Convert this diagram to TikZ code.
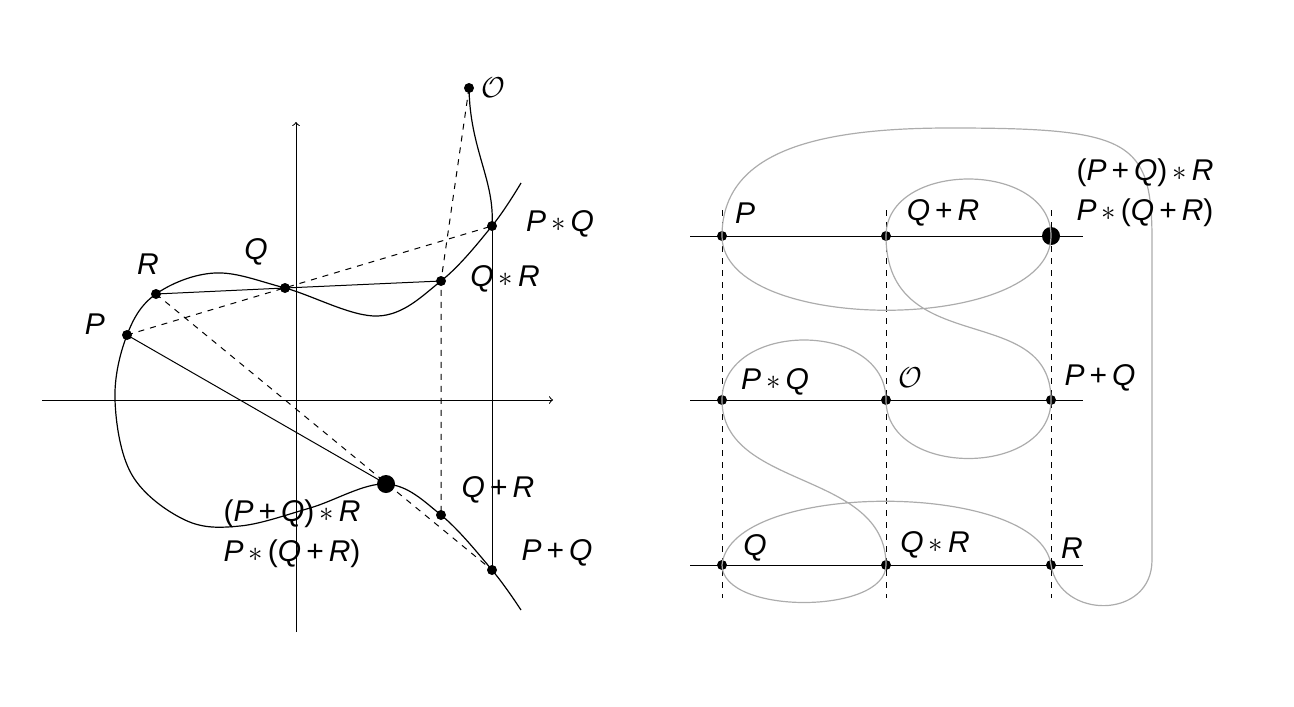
\documentclass[tikz,border=0pt]{standalone}
\usepackage{fontspec}
\setmainfont{Liberation Sans}
\newcommand{\tP}{\textit{P}}
\newcommand{\tQ}{\textit{Q}}
\newcommand{\tR}{\textit{R}}
\newcommand{\st}{\,$*$\,}
\newcommand{\pl}{\,+\,}
\begin{document}
\begin{tikzpicture}[x=0.5pt,y=-0.5pt,
  dot/.style={circle,fill,inner sep=0pt,minimum size=5pt},
  bigdot/.style={circle,fill,inner sep=0pt,minimum size=9pt},
  lab/.style={font=\fontsize{15}{18}\selectfont,inner sep=0pt},
  curve/.style={line width=0.6pt},
  gcurve/.style={gray!65,line width=0.6pt},
  thin/.style={line width=0.5pt}]
\useasboundingbox (0,0) rectangle (1294,706);
% ---------- left ----------
\draw[thin,->] (42,400) -- (553,400);
\draw[thin,->] (296,632) -- (296,122);
\node[dot] (O) at (469,88) {};
\node[dot] (PQ) at (492,226) {};
\node[dot] (QR) at (441,281) {};
\node[dot] (Q) at (285,288) {};
\node[dot] (R) at (156,294) {};
\node[dot] (P) at (127,335) {};
\node[bigdot] (B) at (386,484) {};
\node[dot] (QpR) at (441,515) {};
\node[dot] (PpQ) at (492,570) {};
\draw[curve] plot[smooth,tension=0.6] coordinates {(521,183) (492,226) (441,281) (378,316) (285,288) (215,273) (156,294) (127,335) (115,400) (132,475) (185,520) (240,526) (310,508) (386,484) (441,515) (492,570) (521,610)};
\draw[curve] (O.center) .. controls (470,150) and (495,180) .. (PQ.center);
\draw[thin] (R.center) -- (Q.center) -- (QR.center);
\draw[thin,dashed] (P.center) -- (PQ.center);
\draw[thin] (P.center) -- (B.center);
\draw[thin,dashed] (R.center) -- (PpQ.center);
\draw[thin,dashed] (O.center) -- (QR.center) -- (QpR.center);
\draw[thin] (PQ.center) -- (PpQ.center);
\node[lab] at (493,88) {$\mathcal{O}$};
\node[lab] at (560,224) {\tP\st\tQ};
\node[lab] at (505,279) {\tQ\st\tR};
\node[lab] at (256,252) {\tQ};
\node[lab] at (148,264) {\tR};
\node[lab] at (95,324) {\tP};
\node[lab] at (498,490) {\tQ\pl\tR};
\node[lab] at (557,553) {\tP\pl\tQ};
\node[lab] at (292,514) {(\tP\pl\tQ)\st\tR};
\node[lab] at (292,554) {\tP\st(\tQ\pl\tR)};
% ---------- right ----------
\foreach \y in {236,400,565} \draw[thin] (690,\y) -- (1083,\y);
\foreach \x in {722,886,1051} \draw[thin,dashed] (\x,210) -- (\x,598);
\node[dot] (a1) at (722,236) {};
\node[dot] (a2) at (886,236) {};
\node[bigdot] (a3) at (1051,236) {};
\node[dot] (b1) at (722,400) {};
\node[dot] (b2) at (886,400) {};
\node[dot] (b3) at (1051,400) {};
\node[dot] (c1) at (722,565) {};
\node[dot] (c2) at (886,565) {};
\node[dot] (c3) at (1051,565) {};
\draw[gcurve] (a1.center) .. controls (722,150) and (820,128) .. (950,128)
  .. controls (1130,128) and (1152,140) .. (1152,240) -- (1152,560)
  .. controls (1152,620) and (1060,620) .. (c3.center)
  .. controls (1040,480) and (730,480) .. (c1.center)
  .. controls (722,615) and (886,615) .. (c2.center)
  .. controls (886,470) and (722,490) .. (b1.center)
  .. controls (722,320) and (886,320) .. (b2.center)
  .. controls (886,478) and (1051,478) .. (b3.center)
  .. controls (1051,300) and (886,360) .. (a2.center)
  .. controls (886,160) and (1051,160) .. (a3.center)
  .. controls (1051,335) and (722,335) .. (a1.center);
\node[lab] at (745,213) {\tP};
\node[lab] at (943,213) {\tQ\pl\tR};
\node[lab] at (1145,173) {(\tP\pl\tQ)\st\tR};
\node[lab] at (1145,213) {\tP\st(\tQ\pl\tR)};
\node[lab] at (775,382) {\tP\st\tQ};
\node[lab] at (910,378) {$\mathcal{O}$};
\node[lab] at (1100,378) {\tP\pl\tQ};
\node[lab] at (755,548) {\tQ};
\node[lab] at (935,545) {\tQ\st\tR};
\node[lab] at (1072,548) {\tR};
\end{tikzpicture}
\end{document}
